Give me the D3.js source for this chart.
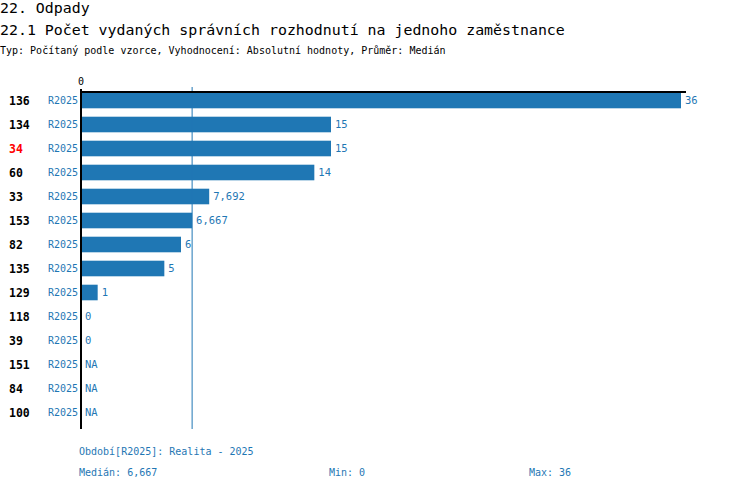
<!DOCTYPE html>
<html>
<head>
<meta charset="utf-8">
<script src="https://cdn.jsdelivr.net/npm/d3@7"></script>
<style>
  body { margin: 0; background: #fff; }
  svg { display: block; font-family: "DejaVu Sans Mono", monospace; }
</style>
</head>
<body>
<div id="chart"></div>
<script>
// data
var categories = ["136", "134", "34", "60", "33", "153", "82", "135", "129", "118", "39", "151", "84", "100"];
var values = [36, 15, 15, 14, 7.692, 6.667, 6, 5, 1, 0, 0, null, null, null];
var highlighted = ["34"];
var periodCode = "R2025";
var periodName = "Realita - 2025";
var stats = { median: 6.667, min: 0, max: 36 };

var width = 750, height = 488;
var blue = "#1f77b4";

var cz = d3.formatLocale({ decimal: ",", thousands: " ", grouping: [3], currency: ["", " Kč"] });
var fmt = cz.format(".3~f");

var svg = d3.select("#chart")
  .append("svg")
  .attr("width", width)
  .attr("height", height);

// headings
svg.append("text")
  .attr("x", 0).attr("y", 13)
  .attr("font-size", "14.9px")
  .text("22. Odpady");
svg.append("text")
  .attr("x", 0).attr("y", 35)
  .attr("font-size", "14.9px")
  .text("22.1 Počet vydaných správních rozhodnutí na jednoho zaměstnance");
svg.append("text")
  .attr("x", 0).attr("y", 54)
  .attr("font-size", "10px")
  .text("Typ: Počítaný podle vzorce, Vyhodnocení: Absolutní hodnoty, Průměr: Medián");

var x = d3.scaleLinear()
  .domain([0, stats.max])
  .range([81, 681]);

var y = d3.scaleBand()
  .domain(categories)
  .range([88.5, 424.5])
  .paddingInner(0.35)
  .paddingOuter(0.175);

var rows = categories.map(function (c, i) {
  return { cat: c, value: values[i] };
});

// bars
svg.append("g")
  .selectAll("rect")
  .data(rows.filter(function (d) { return d.value !== null; }))
  .enter()
  .append("rect")
  .attr("x", x(0))
  .attr("y", function (d) { return y(d.cat); })
  .attr("width", function (d) { return x(d.value) - x(0); })
  .attr("height", y.bandwidth())
  .attr("fill", blue);

// value labels
svg.append("g")
  .selectAll("text")
  .data(rows)
  .enter()
  .append("text")
  .attr("x", function (d) { return x(d.value === null ? 0 : d.value) + 4; })
  .attr("y", function (d) { return y(d.cat) + y.bandwidth() / 2; })
  .attr("dy", "0.35em")
  .attr("font-size", "10.5px")
  .attr("fill", blue)
  .text(function (d) { return d.value === null ? "NA" : fmt(d.value); });

// category labels
svg.append("g")
  .selectAll("text")
  .data(rows)
  .enter()
  .append("text")
  .attr("x", 9)
  .attr("y", function (d) { return y(d.cat) + y.bandwidth() / 2; })
  .attr("dy", "0.35em")
  .attr("font-size", "11.5px")
  .attr("font-weight", "bold")
  .attr("fill", function (d) { return highlighted.indexOf(d.cat) >= 0 ? "#ff0000" : "#000"; })
  .text(function (d) { return d.cat; });

// period labels
svg.append("g")
  .selectAll("text")
  .data(rows)
  .enter()
  .append("text")
  .attr("x", 78)
  .attr("y", function (d) { return y(d.cat) + y.bandwidth() / 2; })
  .attr("dy", "0.35em")
  .attr("text-anchor", "end")
  .attr("font-size", "10px")
  .attr("fill", blue)
  .text(periodCode);

// median line
svg.append("line")
  .attr("x1", x(stats.median)).attr("x2", x(stats.median))
  .attr("y1", 87).attr("y2", 429)
  .attr("stroke", blue)
  .attr("stroke-width", 1);

// axes lines
svg.append("line")
  .attr("x1", x(0)).attr("x2", 686)
  .attr("y1", 92).attr("y2", 92)
  .attr("stroke", "#000")
  .attr("stroke-width", 2);
svg.append("line")
  .attr("x1", x(0)).attr("x2", x(0))
  .attr("y1", 89).attr("y2", 429)
  .attr("stroke", "#000")
  .attr("stroke-width", 2);

svg.append("text")
  .attr("x", x(0)).attr("y", 85)
  .attr("text-anchor", "middle")
  .attr("font-size", "10px")
  .text(fmt(0));

// footer
var foot = svg.append("g")
  .attr("font-size", "10px")
  .attr("fill", blue);
foot.append("text")
  .attr("x", 79).attr("y", 455)
  .text("Období[" + periodCode + "]: " + periodName);
foot.append("text")
  .attr("x", 79).attr("y", 476)
  .text("Medián: " + fmt(stats.median));
foot.append("text")
  .attr("x", 329).attr("y", 476)
  .text("Min: " + fmt(stats.min));
foot.append("text")
  .attr("x", 529).attr("y", 476)
  .text("Max: " + fmt(stats.max));
</script>
</body>
</html>
